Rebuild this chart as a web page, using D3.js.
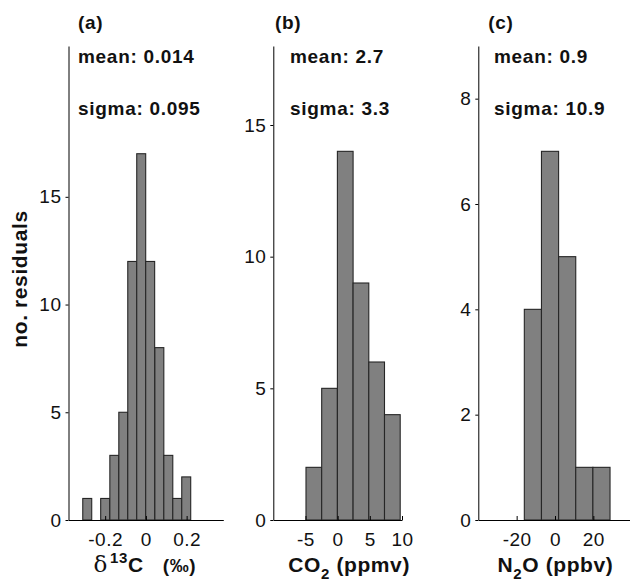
<!DOCTYPE html>
<html>
<head>
<meta charset="utf-8">
<script src="https://cdn.jsdelivr.net/npm/d3@7"></script>
<style>
  body { margin: 0; background: #fff; }
  svg { display: block; font-family: "Liberation Sans", Arial, sans-serif; }
  .bar { fill: #808080; stroke: #262626; stroke-width: 1.1; }
  .axis path, .axis line { stroke: #000; stroke-width: 1; }
  .axis text { font-size: 19px; letter-spacing: 0.5px; fill: #111; font-family: "Liberation Sans", Arial, sans-serif; }
  .note { font-size: 19px; font-weight: bold; letter-spacing: 0.7px; fill: #111; }
  .title { font-size: 21px; font-weight: bold; letter-spacing: 0.6px; fill: #111; }
</style>
</head>
<body>
<div class="chart"></div>
<script>
const width = 630;
const height = 581;

// (a) delta13C residuals
const d13cCenters = [-0.288, -0.244, -0.200, -0.155, -0.111, -0.067, -0.023, 0.021, 0.066, 0.110, 0.154, 0.198];
const d13cCounts = [1, 0, 1, 3, 5, 12, 17, 12, 8, 3, 1, 2];
const d13cWidth = 0.044;
const d13cXTicks = [-0.2, 0, 0.2];
const d13cYTicks = [0, 5, 10, 15];

// (b) CO2 residuals
const co2Centers = [-3.70, -1.26, 1.18, 3.62, 6.06, 8.50];
const co2Counts = [2, 5, 14, 9, 6, 4];
const co2Width = 2.44;
const co2XTicks = [-5, 0, 5, 10];
const co2YTicks = [0, 5, 10, 15];

// (c) N2O residuals
const n2oCenters = [-11.53, -2.59, 6.35, 15.29, 24.23];
const n2oCounts = [4, 7, 5, 1, 1];
const n2oWidth = 8.94;
const n2oXTicks = [-20, 0, 20];
const n2oYTicks = [0, 2, 4, 6, 8];

const letters = ["(a)", "(b)", "(c)"];
const means = ["mean: 0.014", "mean: 2.7", "mean: 0.9"];
const sigmas = ["sigma: 0.095", "sigma: 3.3", "sigma: 10.9"];

const plotTop = 46, plotBottom = 520;

const panels = [
  { centers: d13cCenters, counts: d13cCounts, w: d13cWidth, xdom: [-0.38, 0.38], ymax: 22,
    xt: d13cXTicks, yt: d13cYTicks, left: 68.5, right: 223.3, letterDx: 9.5, noteDx: 9.5, titleDx: -1 },
  { centers: co2Centers, counts: co2Counts, w: co2Width, xdom: [-10, 10], ymax: 18,
    xt: co2XTicks, yt: co2YTicks, left: 273.3, right: 402, letterDx: 1.7, noteDx: 16.7, titleDx: 11.5 },
  { centers: n2oCenters, counts: n2oCounts, w: n2oWidth, xdom: [-40, 40], ymax: 9,
    xt: n2oXTicks, yt: n2oYTicks, left: 478.3, right: 631.7, letterDx: 10, noteDx: 15.7, titleDx: 0.5 }
];

const svg = d3.select(".chart")
  .append("svg")
  .attr("width", width)
  .attr("height", height);

panels.forEach((p, i) => {
  const x = d3.scaleLinear().domain(p.xdom).range([p.left, p.right]);
  const y = d3.scaleLinear().domain([0, p.ymax]).range([plotBottom, plotTop]);
  const g = svg.append("g");

  const bins = p.centers.map((c, j) => ({ c: c, n: p.counts[j] }));

  g.append("g")
    .selectAll("rect")
    .data(bins.filter(d => d.n > 0))
    .enter()
    .append("rect")
    .attr("class", "bar")
    .attr("x", d => x(d.c - p.w / 2))
    .attr("width", d => x(d.c + p.w / 2) - x(d.c - p.w / 2))
    .attr("y", d => y(d.n))
    .attr("height", d => y(0) - y(d.n));

  // x axis, ticks pointing inward like matlab
  g.append("g")
    .attr("class", "axis")
    .attr("transform", `translate(0,${plotBottom})`)
    .call(d3.axisBottom(x).tickValues(p.xt).tickFormat(d => String(d))
      .tickSizeInner(-4).tickSizeOuter(0).tickPadding(13));

  g.append("g")
    .attr("class", "axis")
    .attr("transform", `translate(${p.left},0)`)
    .call(d3.axisLeft(y).tickValues(p.yt).tickFormat(d => String(d))
      .tickSizeInner(3).tickSizeOuter(0).tickPadding(4));

  g.append("text")
    .attr("class", "note")
    .attr("x", p.left + p.letterDx)
    .attr("y", 29)
    .text(letters[i]);

  g.append("text")
    .attr("class", "note")
    .attr("x", p.left + p.noteDx)
    .attr("y", 63)
    .text(means[i]);

  g.append("text")
    .attr("class", "note")
    .attr("x", p.left + p.noteDx)
    .attr("y", 115)
    .text(sigmas[i]);

  // x axis titles
  const t = g.append("text")
    .attr("class", "title")
    .attr("x", (p.left + p.right) / 2 + p.titleDx)
    .attr("y", 572)
    .attr("text-anchor", "middle");

  if (i === 0) {
    t.append("tspan").text("δ").attr("font-family", "DejaVu Serif, serif").attr("font-weight", "normal").attr("font-size", "23px");
    t.append("tspan").text("13").attr("font-size", "15px").attr("dy", -9).attr("dx", 2);
    t.append("tspan").text("C").attr("dy", 9);
    t.append("tspan").text("(‰)").attr("dx", 19).attr("font-size", "19px");
  } else if (i === 1) {
    t.append("tspan").text("CO");
    t.append("tspan").text("2").attr("font-size", "15px").attr("dy", 7);
    t.append("tspan").text(" (ppmv)").attr("dy", -7);
  } else {
    t.append("tspan").text("N");
    t.append("tspan").text("2").attr("font-size", "15px").attr("dy", 7);
    t.append("tspan").text("O (ppbv)").attr("dy", -7);
  }
});

svg.append("text")
  .attr("class", "title")
  .attr("transform", "translate(27,279) rotate(-90)")
  .attr("text-anchor", "middle")
  .style("font-size", "21px")
  .style("letter-spacing", "0.6px")
  .text("no. residuals");
</script>
</body>
</html>
